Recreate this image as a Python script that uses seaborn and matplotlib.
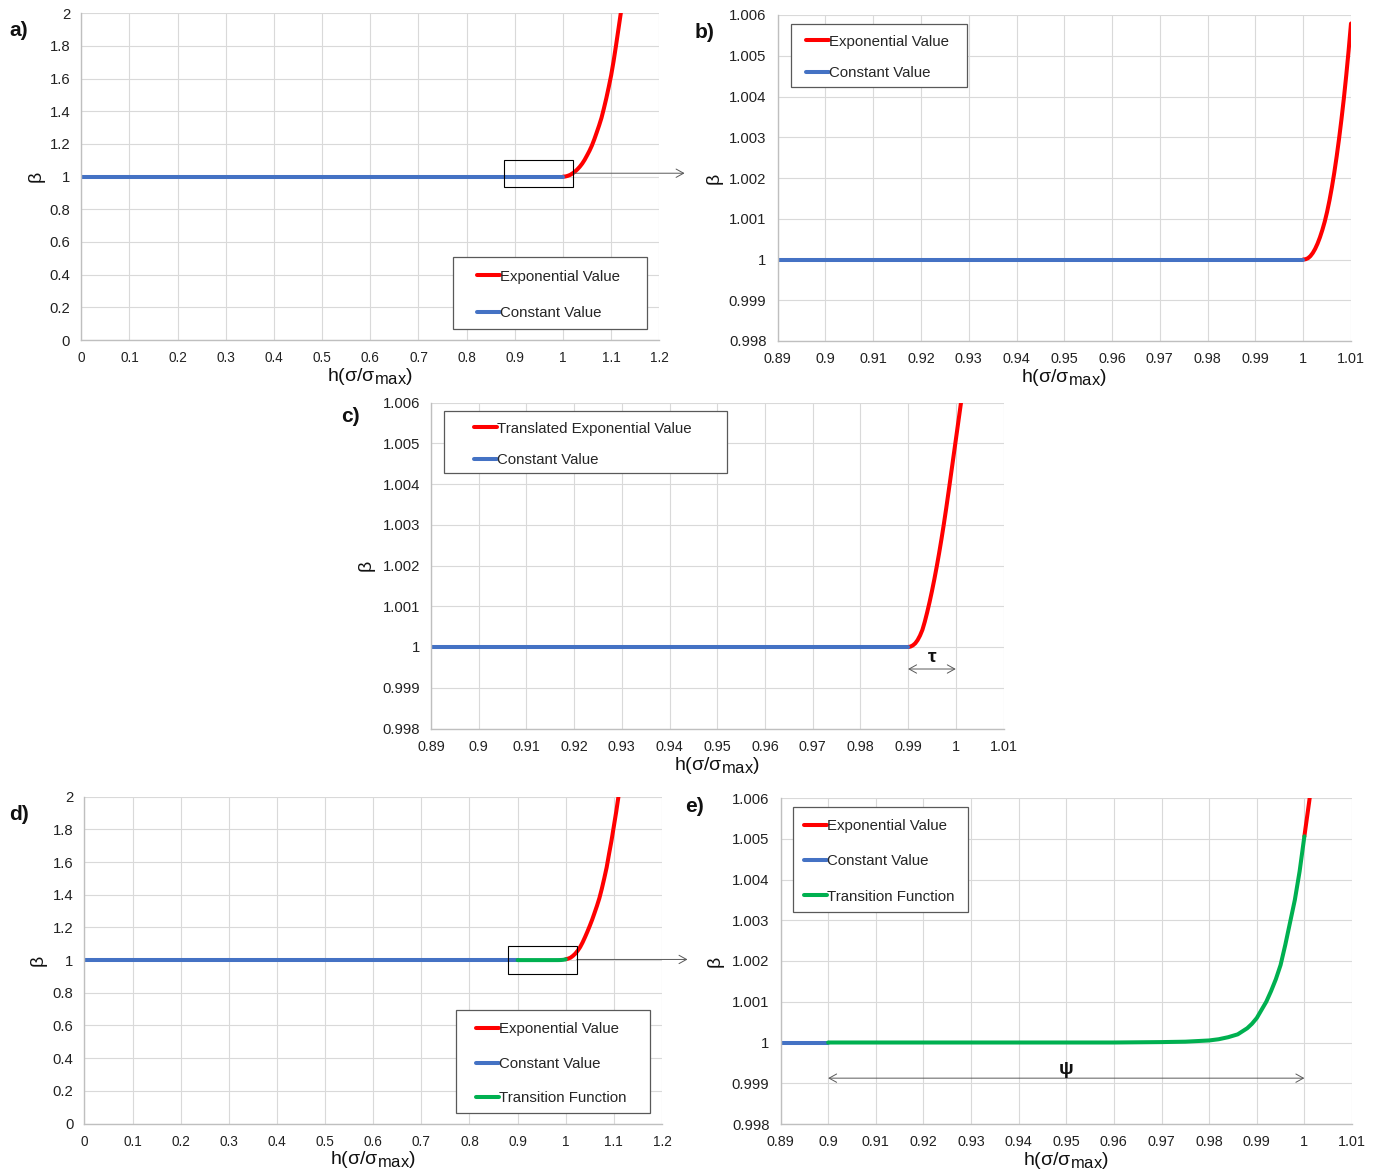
import matplotlib
matplotlib.use("Agg")
import matplotlib.pyplot as plt
import matplotlib._mathtext as mathtext_internal
import seaborn as sns
from matplotlib.patches import Rectangle
from matplotlib.ticker import FuncFormatter

# values (h = sigma/sigma_max, beta)

# a) full range: constant value then exponential rise
a_const_h = [0.0, 1.0]
a_const_b = [1.0, 1.0]
a_exp_h = [1.00, 1.005, 1.01, 1.015, 1.02, 1.025, 1.03, 1.035, 1.04, 1.045, 1.05, 1.055, 1.06,
           1.065, 1.07, 1.075, 1.08, 1.085, 1.09, 1.095, 1.10, 1.105, 1.11, 1.115, 1.12, 1.125]
a_exp_b = [1.0, 1.001, 1.005, 1.011, 1.02, 1.031, 1.045, 1.061, 1.08, 1.103, 1.13, 1.158, 1.19,
           1.228, 1.27, 1.313, 1.36, 1.418, 1.48, 1.548, 1.62, 1.705, 1.80, 1.90, 2.0, 2.12]

# b) zoom of a) around h = 1
b_const_h = [0.89, 1.0]
b_const_b = [1.0, 1.0]
b_exp_h = [1.000, 1.0005, 1.001, 1.0015, 1.002, 1.0025, 1.003, 1.0035, 1.004, 1.0045, 1.005,
           1.0055, 1.006, 1.0065, 1.007, 1.0075, 1.008, 1.0085, 1.009, 1.0095, 1.010]
b_exp_b = [1.0, 1.0000064, 1.000032, 1.000083, 1.00016, 1.000262, 1.00039, 1.000544, 1.000723,
           1.000928, 1.001171, 1.001453, 1.001773, 1.002131, 1.002528, 1.002963, 1.003437,
           1.003949, 1.004512, 1.005126, 1.005792]

# c) exponential translated back by tau
c_const_h = [0.89, 0.99]
c_const_b = [1.0, 1.0]
c_exp_h = [0.990, 0.9905, 0.991, 0.9915, 0.992, 0.9925, 0.993, 0.9935, 0.994, 0.9945, 0.995,
           0.9955, 0.996, 0.9965, 0.997, 0.9975, 0.998, 0.9985, 0.999, 0.9995, 1.000, 1.0005,
           1.001, 1.002]
c_exp_b = [1.0, 1.00001, 1.00004, 1.00009, 1.00017, 1.00028, 1.00042, 1.00062, 1.00085, 1.0011,
           1.00137, 1.00166, 1.00197, 1.0023, 1.00265, 1.00302, 1.00341, 1.00382, 1.00424,
           1.00466, 1.00508, 1.0055, 1.00592, 1.00676]

# d), e) constant -> transition function over psi -> exponential
d_const_h = [0.0, 0.9]
d_const_b = [1.0, 1.0]
e_const_h = [0.89, 0.9]
e_const_b = [1.0, 1.0]
trans_h = [0.90, 0.92, 0.94, 0.96, 0.97, 0.975, 0.98, 0.982, 0.984, 0.986, 0.988, 0.989, 0.990,
           0.991, 0.992, 0.993, 0.994, 0.995, 0.996, 0.997, 0.998, 0.999, 1.000]
trans_b = [1.0, 1.0, 1.0, 1.0, 1.00001, 1.00002, 1.00005, 1.00008, 1.00013, 1.0002, 1.00035, 1.00046,
           1.0006, 1.0008, 1.001, 1.00126, 1.00155, 1.0019, 1.0024, 1.00295, 1.0035, 1.0042, 1.00506]
d_exp_h = [1.00, 1.005, 1.01, 1.015, 1.02, 1.025, 1.03, 1.035, 1.04, 1.045, 1.05, 1.055, 1.06,
           1.065, 1.07, 1.075, 1.08, 1.085, 1.09, 1.095, 1.10, 1.105, 1.11, 1.115]
d_exp_b = [1.005, 1.009, 1.015, 1.026, 1.04, 1.058, 1.08, 1.108, 1.14, 1.174, 1.21, 1.248, 1.29,
           1.333, 1.38, 1.437, 1.50, 1.567, 1.65, 1.73, 1.82, 1.91, 2.01, 2.12]
e_exp_h = [1.000, 1.001, 1.002]
e_exp_b = [1.00506, 1.0059, 1.0068]

# tick positions
full_xticks = [round(0.1 * i, 1) for i in range(13)]
full_yticks = [round(0.2 * i, 1) for i in range(11)]
zoom_xticks = [round(0.89 + 0.01 * i, 2) for i in range(13)]
zoom_yticks = [round(0.998 + 0.001 * i, 3) for i in range(9)]

RED = "#FF0000"
BLUE = "#4472C4"
GREEN = "#00B050"
LW = 2.9

sns.set_theme(style="white")
plt.rcParams["font.family"] = ["Liberation Sans", "DejaVu Sans"]
plt.rcParams["mathtext.fontset"] = "custom"
plt.rcParams["mathtext.rm"] = "Liberation Sans"
plt.rcParams["mathtext.it"] = "Liberation Sans:italic"
# larger subscript, closer to the original "max"
mathtext_internal.SHRINK_FACTOR = 0.85

W, H = 1381, 1176
fig = plt.figure(figsize=(W / 100, H / 100), dpi=100)


def px_rect(l, t, r, b):
    return [l / W, 1 - b / H, (r - l) / W, (b - t) / H]


def make_axes(box, xlim, ylim, xticks, yticks, beta_right, xsize):
    l, t, r, b = box
    ax = fig.add_axes(px_rect(l, t, r, b))
    ax.set_xlim(*xlim)
    ax.set_ylim(*ylim)
    ax.set_xticks(xticks)
    ax.set_yticks(yticks)
    fmt = FuncFormatter(lambda v, p: f"{v:g}")
    ax.xaxis.set_major_formatter(fmt)
    ax.yaxis.set_major_formatter(fmt)
    ax.grid(True, color="#D9D9D9", lw=0.8)
    ax.set_axisbelow(True)
    for s in ["top", "right"]:
        ax.spines[s].set_visible(False)
    for s in ["left", "bottom"]:
        ax.spines[s].set_color("#BFBFBF")
        ax.spines[s].set_linewidth(1.0)
    ax.tick_params(length=0, labelcolor="#222222")
    ax.tick_params(axis="x", pad=8, labelsize=xsize)
    ax.tick_params(axis="y", pad=8, labelsize=10.7)
    ax.set_xlabel(r"h(σ/σ$_{\mathrm{max}}$)", fontsize=14, color="#111111")
    ax.set_ylabel("β", fontsize=14, color="#111111")
    ax.xaxis.set_label_coords(0.5, -26 / (b - t))
    ax.yaxis.set_label_coords((beta_right - l) / (r - l), 0.5)
    return ax


def seg(ax, h, b, color, label):
    sns.lineplot(x=h, y=b, ax=ax, color=color, lw=LW, label=label,
                 sort=False, estimator=None, solid_capstyle="round")


def legend_box(ax, frame, anchor, spacing):
    x0, y0, x1, y1 = frame
    ax.add_patch(Rectangle((x0 / W, 1 - y1 / H), (x1 - x0) / W, (y1 - y0) / H,
                           transform=fig.transFigure, fc="white", ec="#595959",
                           lw=0.9, clip_on=False, zorder=4.5))
    handles, labels = ax.get_legend_handles_labels()
    ax.legend(handles, labels, loc="upper left",
              bbox_to_anchor=(anchor[0] / W, 1 - anchor[1] / H),
              bbox_transform=fig.transFigure, frameon=False, borderpad=0,
              borderaxespad=0, handlelength=1.5, handletextpad=0.05,
              labelspacing=spacing, fontsize=10.8)


def zoom_marker(ax, box_x, box_y, arrow_y, arrow_end):
    ax.add_patch(Rectangle((box_x[0], box_y[0]), box_x[1] - box_x[0], box_y[1] - box_y[0],
                           fill=False, ec="black", lw=0.8, clip_on=False, zorder=6))
    ax.annotate("", xy=(arrow_end, arrow_y), xytext=(box_x[1], arrow_y),
                arrowprops=dict(arrowstyle="->,head_length=0.45,head_width=0.25",
                                color="#595959", lw=0.7, shrinkA=0, shrinkB=0),
                annotation_clip=False)


def span_arrow(ax, x0, x1, y, text, ty):
    ax.annotate("", xy=(x1, y), xytext=(x0, y),
                arrowprops=dict(arrowstyle="<->,head_length=0.45,head_width=0.25",
                                color="#595959", lw=0.7, shrinkA=0, shrinkB=0))
    ax.text((x0 + x1) / 2, ty, text, ha="center", va="center",
            fontsize=14, fontweight="bold", color="#111111")


# a)
ax_a = make_axes((81.3, 13.3, 659.3, 340), (0, 1.2), (0, 2), full_xticks, full_yticks, 45, 9.8)
seg(ax_a, a_exp_h, a_exp_b, RED, "Exponential Value")
seg(ax_a, a_const_h, a_const_b, BLUE, "Constant Value")
zoom_marker(ax_a, (0.8776, 1.0216), (0.935, 1.102), 1.021, 1.2525)
legend_box(ax_a, (453, 257, 647, 329), (477, 269.6), 1.52)

# b)
ax_b = make_axes((777.6, 15, 1351, 341), (0.89, 1.01), (0.998, 1.006), zoom_xticks, zoom_yticks, 723, 10.4)
seg(ax_b, b_exp_h, b_exp_b, RED, "Exponential Value")
seg(ax_b, b_const_h, b_const_b, BLUE, "Constant Value")
legend_box(ax_b, (791, 24, 967, 87), (806, 34.6), 1.19)

# c)
ax_c = make_axes((431, 402.5, 1003.5, 728.5), (0.89, 1.01), (0.998, 1.006), zoom_xticks, zoom_yticks, 375, 10.4)
seg(ax_c, c_exp_h, c_exp_b, RED, "Translated Exponential Value")
seg(ax_c, c_const_h, c_const_b, BLUE, "Constant Value")
span_arrow(ax_c, 0.99, 1.0, 0.99946, "τ", 0.99974)
legend_box(ax_c, (444, 411, 727, 473), (474, 421.6), 1.18)

# d)
ax_d = make_axes((84.4, 796.7, 662, 1123.5), (0, 1.2), (0, 2), full_xticks, full_yticks, 47, 9.8)
seg(ax_d, d_exp_h, d_exp_b, RED, "Exponential Value")
seg(ax_d, d_const_h, d_const_b, BLUE, "Constant Value")
seg(ax_d, trans_h, trans_b, GREEN, "Transition Function")
zoom_marker(ax_d, (0.88, 1.023), (0.916, 1.087), 1.004, 1.253)
legend_box(ax_d, (456, 1010, 650, 1113), (476, 1022.5), 1.36)

# e)
ax_e = make_axes((780.5, 798, 1352, 1124), (0.89, 1.01), (0.998, 1.006), zoom_xticks, zoom_yticks, 724, 10.4)
seg(ax_e, e_exp_h, e_exp_b, RED, "Exponential Value")
seg(ax_e, e_const_h, e_const_b, BLUE, "Constant Value")
seg(ax_e, trans_h, trans_b, GREEN, "Transition Function")
span_arrow(ax_e, 0.9, 1.0, 0.999125, "ψ", 0.99933)
legend_box(ax_e, (793, 807, 968, 912), (804, 819), 1.42)

# panel letters
for letter, x, y in [("a)", 19, 31), ("b)", 705, 33), ("c)", 350, 417),
                     ("d)", 19, 814), ("e)", 694, 806)]:
    fig.text(x / W, 1 - y / H, letter, ha="center", va="center",
             fontsize=15, fontweight="bold", color="#111111")

fig.savefig("out.png", dpi=100)
